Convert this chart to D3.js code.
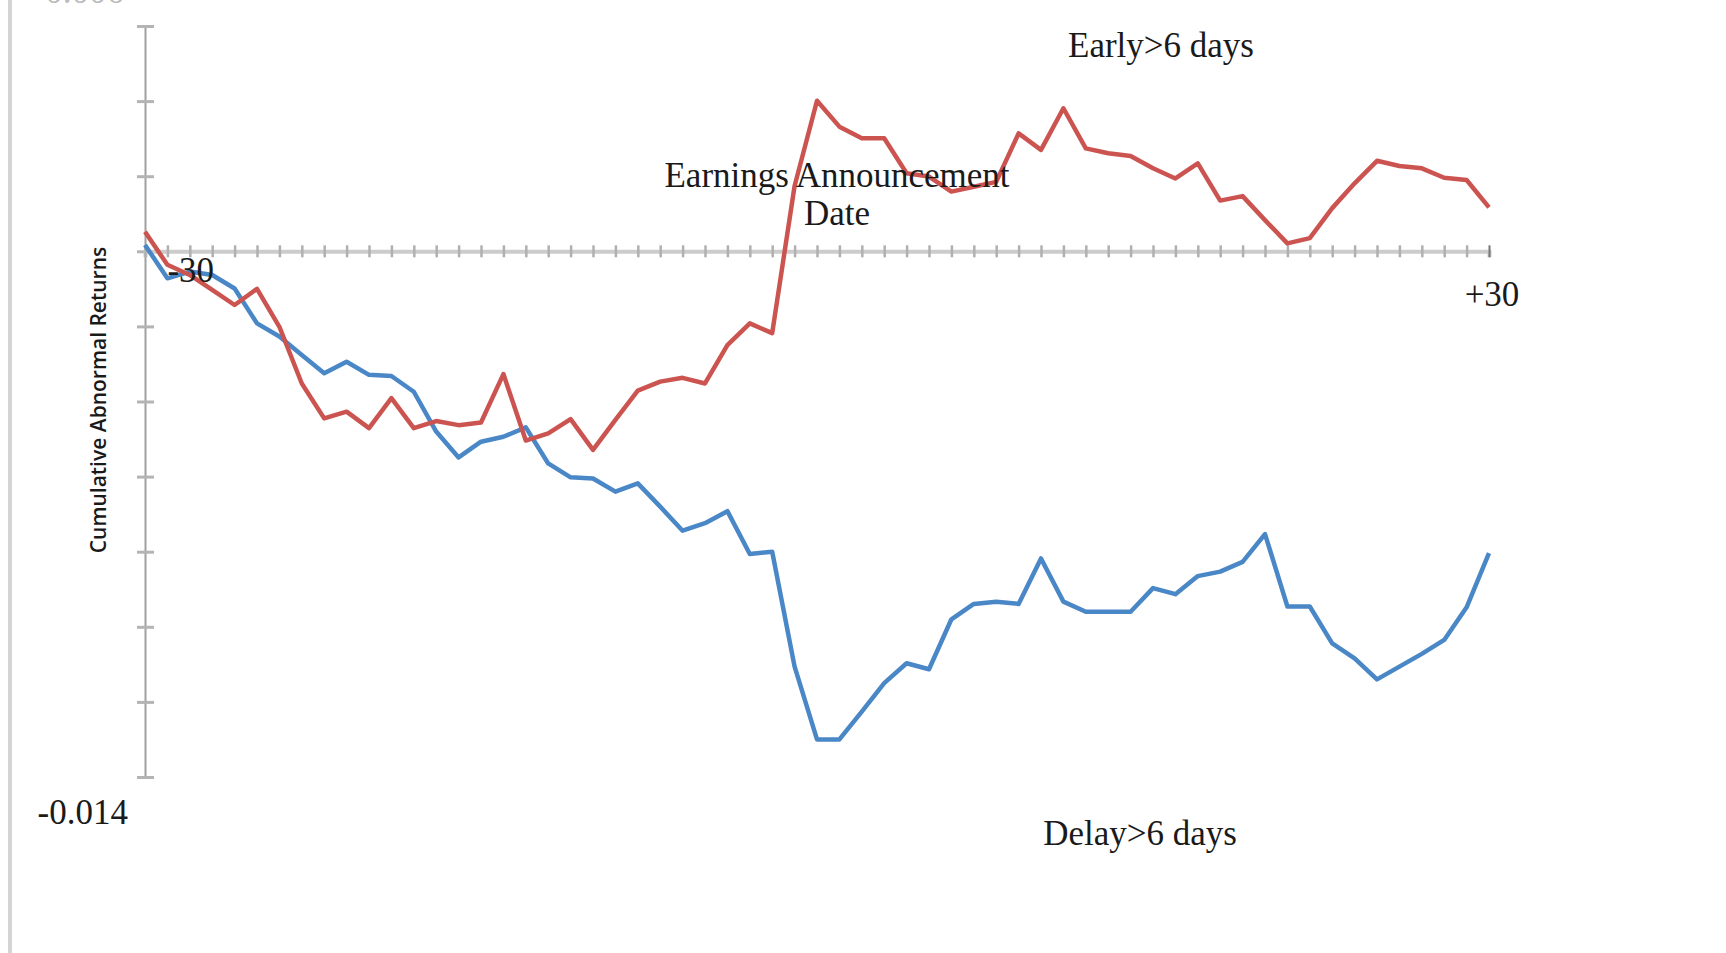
<!DOCTYPE html>
<html>
<head>
<meta charset="utf-8">
<script src="https://cdn.jsdelivr.net/npm/d3@7"></script>
<style>
  body { margin: 0; background: #fff; }
  svg { display: block; }
  .lbl { font-family: "Liberation Serif", "Times New Roman", serif; font-size: 35px; fill: #1a1a1a; }
</style>
</head>
<body>
<svg id="chart" width="1726" height="953"></svg>
<script>
// event window, days around the earnings announcement
var days = d3.range(-30, 31);

// cumulative abnormal returns (units of 0.001)
var early = [0.52, -0.36, -0.63, -1.03, -1.43, -1.00, -2.01, -3.52, -4.45, -4.27,
  -4.71, -3.91, -4.71, -4.52, -4.63, -4.56, -3.27, -5.04, -4.85, -4.47,
  -5.29, -4.49, -3.71, -3.47, -3.37, -3.52, -2.50, -1.92, -2.18, 1.74,
  4.01, 3.32, 3.01, 3.01, 2.08, 1.99, 1.59, 1.72, 1.85, 3.14,
  2.70, 3.81, 2.74, 2.61, 2.54, 2.21, 1.94, 2.34, 1.35, 1.47,
  0.83, 0.21, 0.35, 1.15, 1.81, 2.41, 2.27, 2.21, 1.96, 1.90, 1.17];

var delay = [0.17, -0.72, -0.54, -0.63, -0.99, -1.92, -2.27, -2.76, -3.25, -2.94,
  -3.29, -3.32, -3.74, -4.80, -5.49, -5.07, -4.94, -4.69, -5.65, -6.02,
  -6.05, -6.40, -6.18, -6.80, -7.44, -7.24, -6.92, -8.06, -8.00, -11.06,
  -13.00, -13.00, -12.26, -11.50, -10.97, -11.13, -9.80, -9.39, -9.33, -9.39,
  -8.18, -9.33, -9.60, -9.60, -9.60, -8.97, -9.13, -8.65, -8.53, -8.27,
  -7.53, -9.46, -9.46, -10.44, -10.84, -11.40, -11.06, -10.72, -10.35, -9.48, -8.04];

var yTicks = [0.006, 0.004, 0.002, 0, -0.002, -0.004, -0.006, -0.008, -0.010, -0.012, -0.014];

var svg = d3.select("#chart");

var x = d3.scaleLinear().domain([-30, 30]).range([145, 1489]);
var y = d3.scaleLinear().domain([0.006, -0.014]).range([26, 777]);

// page edge
svg.append("line")
  .attr("x1", 10).attr("x2", 10).attr("y1", 0).attr("y2", 953)
  .attr("stroke", "#d4d4d4").attr("stroke-width", 4);

// y axis
var yAxis = svg.append("g")
  .attr("transform", "translate(" + x(-30) + ",0)")
  .call(d3.axisLeft(y).tickValues(yTicks).tickSize(8).tickFormat(""));
yAxis.select(".domain").attr("stroke", "#a0a0a0").attr("stroke-width", 2);
yAxis.selectAll(".tick line")
  .attr("x1", -8).attr("x2", 9)
  .attr("stroke", "#b4b4b4").attr("stroke-width", 3);

// x axis on the zero line
var xAxis = svg.append("g")
  .attr("transform", "translate(0," + y(0) + ")")
  .call(d3.axisBottom(x).tickValues(days).tickSize(6).tickFormat(""));
xAxis.select(".domain").attr("stroke", "#cccccc").attr("stroke-width", 4);
xAxis.selectAll(".tick line")
  .attr("y1", -6).attr("y2", 6)
  .attr("stroke", "#b0b0b0").attr("stroke-width", 2.5);
xAxis.selectAll(".tick").filter(function(d) { return d == 30; }).select("line")
  .attr("stroke", "#777").attr("stroke-width", 2);

// lines
var line = d3.line()
  .x(function(d, i) { return x(days[i]); })
  .y(function(d) { return y(d / 1000); });

svg.append("path").datum(delay)
  .attr("d", line)
  .attr("fill", "none").attr("stroke", "#4a87c6").attr("stroke-width", 4.5)
  .attr("stroke-linejoin", "round");

svg.append("path").datum(early)
  .attr("d", line)
  .attr("fill", "none").attr("stroke", "#cc5450").attr("stroke-width", 4.5)
  .attr("stroke-linejoin", "round");

// labels (top one is clipped by the page edge, as in the original)
svg.append("text").attr("class", "lbl")
  .attr("x", 124).attr("y", y(0.006) - 23).attr("text-anchor", "end")
  .style("fill", "#bbb").text("0.006");
svg.append("text").attr("class", "lbl")
  .attr("x", 128).attr("y", y(-0.014) + 47).attr("text-anchor", "end").text("-0.014");
svg.append("text").attr("class", "lbl")
  .attr("x", x(-28) + 1).attr("y", y(0) + 31).attr("text-anchor", "middle").text("-30");
svg.append("text").attr("class", "lbl")
  .attr("x", x(30) + 3).attr("y", y(0) + 55).attr("text-anchor", "middle").text("+30");

svg.append("text").attr("class", "lbl")
  .attr("x", 837).attr("y", 187).attr("text-anchor", "middle").text("Earnings Announcement");
svg.append("text").attr("class", "lbl")
  .attr("x", 837).attr("y", 225).attr("text-anchor", "middle").text("Date");
svg.append("text").attr("class", "lbl")
  .attr("x", 1161).attr("y", 57).attr("text-anchor", "middle").text("Early>6 days");
svg.append("text").attr("class", "lbl")
  .attr("x", 1140).attr("y", 845).attr("text-anchor", "middle").text("Delay>6 days");

svg.append("text")
  .attr("transform", "translate(106,400) rotate(-90)")
  .attr("text-anchor", "middle")
  .style("font-family", "'Open Sans', sans-serif")
  .style("font-size", "21px")
  .style("font-weight", 600)
  .style("fill", "#1a1a1a")
  .text("Cumulative Abnormal Returns");
</script>
</body>
</html>
